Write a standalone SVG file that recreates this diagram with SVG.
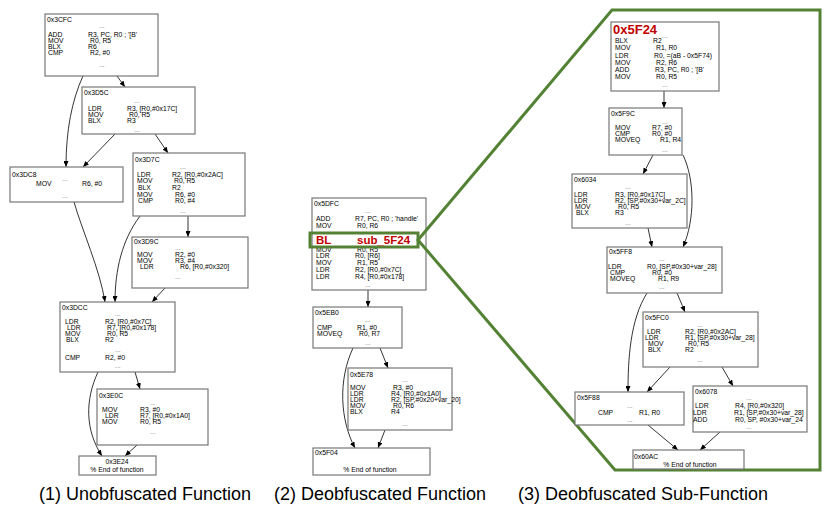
<svg xmlns="http://www.w3.org/2000/svg" width="830" height="517" viewBox="0 0 830 517">
<defs>
<style>
.b{fill:#fff;stroke:#777;stroke-width:1.2}
.t{font-family:"Liberation Sans",Arial,sans-serif;font-size:6.8px;fill:#000}
.c{text-anchor:middle}
.d{fill:#777}
.e{fill:none;stroke:#000;stroke-width:0.8;marker-end:url(#a)}
.r{font-family:"Liberation Sans",Arial,sans-serif;font-weight:bold;fill:#c00000}
.cap{font-family:"Liberation Sans",Arial,sans-serif;font-size:18px;fill:#000;text-anchor:middle}
.g{fill:none;stroke:#548235;stroke-width:3}
</style>
<marker id="a" markerUnits="userSpaceOnUse" markerWidth="6" markerHeight="5" refX="6" refY="2.5" orient="auto"><path d="M0,0 L6,2.5 L0,5 z" fill="#000"/></marker>
</defs>
<rect width="830" height="517" fill="#fff"/>

<g id="edges">
<path class="e" d="M83,76 C72,100 66,130 66,167"/>
<path class="e" d="M117,76 L125,87"/>
<path class="e" d="M115,134 L83,167"/>
<path class="e" d="M155,134 L168,153"/>
<path class="e" d="M188,216 L188,237"/>
<path class="e" d="M74,202 C82,230 100,270 105,302"/>
<path class="e" d="M140,216 C122,240 115,270 115,302"/>
<path class="e" d="M165,288 L152,302"/>
<path class="e" d="M98,372 C85,400 85,430 102,456"/>
<path class="e" d="M135,372 L140,389"/>
<path class="e" d="M137,445 L125,456"/>
<path class="e" d="M368,290 L368,307"/>
<path class="e" d="M380,348 L388,368"/>
<path class="e" d="M353,348 C338,380 340,420 355,448"/>
<path class="e" d="M385,430 L378,448"/>
<path class="e" d="M664,91 L664,108"/>
<path class="e" d="M653,155 L643,174"/>
<path class="e" d="M683,155 C695,180 695,220 683,247"/>
<path class="e" d="M648,228 L652,247"/>
<path class="e" d="M677,293 L685,312"/>
<path class="e" d="M647,293 C630,320 628,360 628,392"/>
<path class="e" d="M670,367 L647,392"/>
<path class="e" d="M722,367 L733,386"/>
<path class="e" d="M648,425 L678,450"/>
<path class="e" d="M720,432 L700,450"/>
</g>

<g id="n3CFC">
<rect class="b" x="45" y="14" width="113" height="62"/>
<text class="t" x="47" y="22">0x3CFC</text>
<text class="t d" x="99" y="28">...</text>
<text class="t" x="48" y="37">ADD</text><text class="t" x="88" y="37">R3, PC, R0 ; '[B'</text>
<text class="t" x="48" y="43">MOV</text><text class="t" x="90" y="43">R0, R5</text>
<text class="t" x="48" y="49">BLX</text><text class="t" x="88" y="49">R6</text>
<text class="t" x="48" y="55">CMP</text><text class="t" x="90" y="55">R2, #0</text>
<text class="t d" x="99" y="67">...</text>
</g>
<g id="n3D5C">
<rect class="b" x="82" y="87" width="113" height="47"/>
<text class="t" x="84" y="95">0x3D5C</text>
<text class="t d" x="134" y="103">...</text>
<text class="t" x="88" y="111">LDR</text><text class="t" x="127" y="111">R3, [R0,#0x17C]</text>
<text class="t" x="88" y="117">MOV</text><text class="t" x="129" y="117">R0, R5</text>
<text class="t" x="88" y="123">BLX</text><text class="t" x="127" y="123">R3</text>
<text class="t d" x="134" y="132">...</text>
</g>
<g id="n3D7C">
<rect class="b" x="133" y="153" width="112" height="63"/>
<text class="t" x="135" y="162">0x3D7C</text>
<text class="t d" x="180" y="169">...</text>
<text class="t" x="137" y="177">LDR</text><text class="t" x="172" y="177">R2, [R0,#0x2AC]</text>
<text class="t" x="137" y="183">MOV</text><text class="t" x="174" y="183">R0, R5</text>
<text class="t" x="138" y="190">BLX</text><text class="t" x="172" y="190">R2</text>
<text class="t" x="137" y="197">MOV</text><text class="t" x="175" y="197">R6, #0</text>
<text class="t" x="138" y="203">CMP</text><text class="t" x="175" y="203">R0, #4</text>
<text class="t d" x="180" y="213">...</text>
</g>
<g id="n3DC8">
<rect class="b" x="10" y="167" width="113" height="35"/>
<text class="t" x="12" y="177">0x3DC8</text>
<text class="t d" x="62" y="181">...</text>
<text class="t" x="36" y="186">MOV</text><text class="t" x="82" y="186">R6, #0</text>
<text class="t d" x="62" y="198">...</text>
</g>
<g id="n3D9C">
<rect class="b" x="132" y="237" width="116" height="51"/>
<text class="t" x="134" y="244">0x3D9C</text>
<text class="t d" x="175" y="250">...</text>
<text class="t" x="137" y="257">MOV</text><text class="t" x="175" y="257">R2, #0</text>
<text class="t" x="137" y="263">MOV</text><text class="t" x="175" y="263">R3, #4</text>
<text class="t" x="140" y="269">LDR</text><text class="t" x="180" y="269">R6, [R0,#0x320]</text>
<text class="t d" x="175" y="279">...</text>
</g>
<g id="n3DCC">
<rect class="b" x="60" y="302" width="115" height="70"/>
<text class="t" x="62" y="310">0x3DCC</text>
<text class="t d" x="115" y="316">...</text>
<text class="t" x="65" y="324">LDR</text><text class="t" x="105" y="324">R2, [R0,#0x7C]</text>
<text class="t" x="67" y="330">LDR</text><text class="t" x="107" y="330">R7, [R0,#0x178]</text>
<text class="t" x="65" y="336">MOV</text><text class="t" x="107" y="336">R0, R5</text>
<text class="t" x="66" y="342">BLX</text><text class="t" x="105" y="342">R2</text>
<text class="t d" x="115" y="352">...</text>
<text class="t" x="65" y="360">CMP</text><text class="t" x="105" y="360">R2, #0</text>
<text class="t d" x="115" y="368">...</text>
</g>
<g id="n3E0C">
<rect class="b" x="97" y="389" width="111" height="56"/>
<text class="t" x="99" y="398">0x3E0C</text>
<text class="t d" x="150" y="405">...</text>
<text class="t" x="102" y="412">MOV</text><text class="t" x="140" y="412">R3, #0</text>
<text class="t" x="105" y="418">LDR</text><text class="t" x="140" y="418">R7, [R0,#0x1A0]</text>
<text class="t" x="102" y="424">MOV</text><text class="t" x="140" y="424">R0, R5</text>
<text class="t d" x="150" y="434">...</text>
</g>
<g id="n3E24">
<rect class="b" x="79" y="456" width="77" height="19"/>
<text class="t c" x="117" y="464">0x3E24</text>
<text class="t c" x="117" y="472">% End of function</text>
</g>

<g id="n5DFC">
<rect class="b" x="312" y="198" width="114" height="92"/>
<text class="t" x="314" y="206">0x5DFC</text>
<text class="t d" x="365" y="213">...</text>
<text class="t" x="316" y="221">ADD</text><text class="t" x="355" y="221">R7, PC, R0 ; 'handle'</text>
<text class="t" x="316" y="228">MOV</text><text class="t" x="357" y="228">R0, R6</text>
<text class="t" x="316" y="251.5">MOV</text><text class="t" x="357" y="251.5">R0, R5</text>
<text class="t" x="316" y="258">LDR</text><text class="t" x="355" y="258">R0, [R6]</text>
<text class="t" x="316" y="264.5">MOV</text><text class="t" x="357" y="264.5">R1, R5</text>
<text class="t" x="316" y="271.5">LDR</text><text class="t" x="355" y="271.5">R2, [R0,#0x7C]</text>
<text class="t" x="316" y="279">LDR</text><text class="t" x="355" y="279">R4, [R0,#0x178]</text>
<text class="t d" x="365" y="287">...</text>
<rect x="310" y="233" width="108" height="14" fill="#fff" fill-opacity="0.6" class="g"/>
<text class="r" x="316" y="244" font-size="11.5">BL</text><text class="r" x="357" y="244" font-size="11.5">sub_5F24</text>
</g>
<g id="n5EB0">
<rect class="b" x="313" y="307" width="89" height="41"/>
<text class="t" x="315" y="315">0x5EB0</text>
<text class="t d" x="365" y="322">...</text>
<text class="t" x="317" y="330">CMP</text><text class="t" x="357" y="330">R1, #0</text>
<text class="t" x="317" y="336">MOVEQ</text><text class="t" x="359" y="336">R0, R7</text>
<text class="t d" x="365" y="345">...</text>
</g>
<g id="n5E78">
<rect class="b" x="348" y="368" width="104" height="62"/>
<text class="t" x="350" y="377">0x5E78</text>
<text class="t d" x="402" y="382">...</text>
<text class="t" x="350" y="390">MOV</text><text class="t" x="393" y="390">R3, #0</text>
<text class="t" x="350" y="396">LDR</text><text class="t" x="391" y="396">R4, [R0,#0x1A0]</text>
<text class="t" x="350" y="402">LDR</text><text class="t" x="391" y="402">R2, [SP,#0x20+var_20]</text>
<text class="t" x="350" y="408">MOV</text><text class="t" x="393" y="408">R0, R6</text>
<text class="t" x="350" y="414">BLX</text><text class="t" x="391" y="414">R4</text>
<text class="t d" x="402" y="426">...</text>
</g>
<g id="n5F04">
<rect class="b" x="313" y="448" width="117" height="27"/>
<text class="t" x="315" y="455">0x5F04</text>
<text class="t c" x="370" y="472">% End of function</text>
</g>

<g id="zoom">
<path class="g" d="M418,240 L612,10 L820,10 L820,470 L615,470 Z"/>
</g>

<g id="n5F24">
<rect class="b" x="611" y="22" width="108" height="69"/>
<text class="r" x="613" y="34" font-size="13">0x5F24</text>
<text class="t d" x="662" y="38">...</text>
<text class="t" x="615" y="43">BLX</text><text class="t" x="653" y="43">R2</text>
<text class="t" x="615" y="50">MOV</text><text class="t" x="656" y="50">R1, R0</text>
<text class="t" x="615" y="57.5">LDR</text><text class="t" x="654" y="57.5">R0, =(aB - 0x5F74)</text>
<text class="t" x="615" y="64.5">MOV</text><text class="t" x="656" y="64.5">R2, R6</text>
<text class="t" x="615" y="71.5">ADD</text><text class="t" x="655" y="71.5">R3, PC, R0 ; '[B'</text>
<text class="t" x="615" y="78.5">MOV</text><text class="t" x="656" y="78.5">R0, R5</text>
<text class="t d" x="662" y="87">...</text>
</g>
<g id="n5F9C">
<rect class="b" x="609" y="108" width="73" height="47"/>
<text class="t" x="611" y="116">0x5F9C</text>
<text class="t d" x="662" y="124">...</text>
<text class="t" x="615" y="130">MOV</text><text class="t" x="652" y="130">R7, #0</text>
<text class="t" x="615" y="136">CMP</text><text class="t" x="652" y="136">R0, #0</text>
<text class="t" x="615" y="142">MOVEQ</text><text class="t" x="660" y="142">R1, R4</text>
<text class="t d" x="662" y="152">...</text>
</g>
<g id="n6034">
<rect class="b" x="572" y="174" width="115" height="54"/>
<text class="t" x="574" y="182">0x6034</text>
<text class="t d" x="625" y="189">...</text>
<text class="t" x="574" y="197">LDR</text><text class="t" x="615" y="197">R3, [R0,#0x17C]</text>
<text class="t" x="574" y="203">LDR</text><text class="t" x="615" y="203">R2, [SP,#0x30+var_2C]</text>
<text class="t" x="575" y="209">MOV</text><text class="t" x="618" y="209">R0, R5</text>
<text class="t" x="576" y="215">BLX</text><text class="t" x="615" y="215">R3</text>
<text class="t d" x="625" y="225">...</text>
</g>
<g id="n5FF8">
<rect class="b" x="607" y="247" width="115" height="46"/>
<text class="t" x="609" y="254">0x5FF8</text>
<text class="t d" x="659" y="261">...</text>
<text class="t" x="608" y="269">LDR</text><text class="t" x="647" y="269">R0, [SP,#0x30+var_28]</text>
<text class="t" x="610" y="275">CMP</text><text class="t" x="652" y="275">R0, #0</text>
<text class="t" x="610" y="281">MOVEQ</text><text class="t" x="658" y="281">R1, R9</text>
<text class="t d" x="659" y="289">...</text>
</g>
<g id="n5FC0">
<rect class="b" x="643" y="312" width="115" height="55"/>
<text class="t" x="645" y="320">0x5FC0</text>
<text class="t d" x="697" y="327">...</text>
<text class="t" x="647" y="334">LDR</text><text class="t" x="685" y="334">R2, [R0,#0x2AC]</text>
<text class="t" x="645" y="340">LDR</text><text class="t" x="685" y="340">R1, [SP,#0x30+var_28]</text>
<text class="t" x="648" y="346">MOV</text><text class="t" x="688" y="346">R0, R5</text>
<text class="t" x="648" y="352">BLX</text><text class="t" x="685" y="352">R2</text>
<text class="t d" x="697" y="362">...</text>
</g>
<g id="n5F88">
<rect class="b" x="575" y="392" width="109" height="33"/>
<text class="t" x="577" y="400">0x5F88</text>
<text class="t d" x="627" y="408">...</text>
<text class="t" x="598" y="415">CMP</text><text class="t" x="639" y="415">R1, R0</text>
<text class="t d" x="627" y="422">...</text>
</g>
<g id="n6078">
<rect class="b" x="693" y="386" width="114" height="46"/>
<text class="t" x="695" y="394">0x6078</text>
<text class="t d" x="746" y="400">...</text>
<text class="t" x="695" y="408">LDR</text><text class="t" x="735" y="408">R4, [R0,#0x320]</text>
<text class="t" x="693" y="415">LDR</text><text class="t" x="734" y="415">R1, [SP,#0x30+var_28]</text>
<text class="t" x="693" y="422">ADD</text><text class="t" x="735" y="422">R0, SP, #0x30+var_24</text>
<text class="t d" x="746" y="429">...</text>
</g>
<g id="n60AC">
<rect class="b" x="633" y="450" width="111" height="19"/>
<text class="t" x="634" y="459">0x60AC</text>
<text class="t c" x="690" y="467">% End of function</text>
</g>

<g id="captions">
<text class="cap" x="145" y="500">(1) Unobfuscated Function</text>
<text class="cap" x="380" y="500">(2) Deobfuscated Function</text>
<text class="cap" x="643" y="500">(3) Deobfuscated Sub-Function</text>
</g>
</svg>
